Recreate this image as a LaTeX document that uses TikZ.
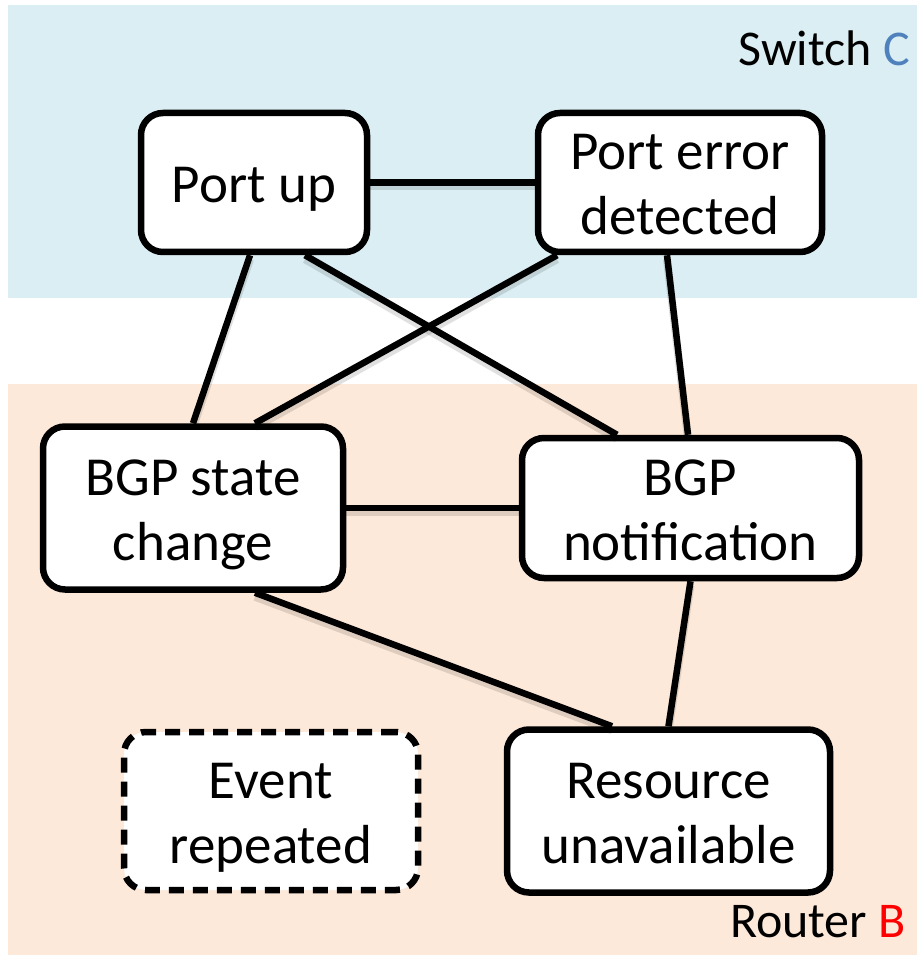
\documentclass[tikz,border=0pt]{standalone}
\usepackage{fontspec}
\setmainfont{Carlito}
\usetikzlibrary{calc}
\definecolor{switchbg}{HTML}{DAEEF3}
\definecolor{routerbg}{HTML}{FDE9D9}
\definecolor{cblue}{HTML}{4F81BD}
% centred stack of lines, lowered slightly inside its box
\newcommand{\evtext}[1]{\raisebox{-7pt}[\height][\depth]{\begin{tabular}{@{}c@{}}#1\end{tabular}}}
\begin{document}
\begin{tikzpicture}[x=1pt,y=-1pt,
  evt/.style={draw=black, line width=6.5pt, fill=white, rounded corners=22pt,
    align=center, inner sep=0pt, font=\fontsize{55}{65}\selectfont},
  link/.style={line width=6.5pt, black,
    preaction={draw=black, opacity=0.12, line width=8pt, transform canvas={yshift=-4pt}}},
  zone/.style={font=\fontsize{50}{58}\selectfont, anchor=east, inner sep=0pt}]
\useasboundingbox (0,0) rectangle (917,957);
% zones
\fill[switchbg] (8,5) rectangle (917,298);
\fill[routerbg] (8,384) rectangle (917,955);
\node[zone] (swl) at (910,48) {Switch \textcolor{cblue}{C}};
\node[zone] (rtl) at (906,922) {Router \textcolor{red}{B}};
% events
\node[evt, minimum width=226pt, minimum height=139pt] (pu) at (254,182.5) {\evtext{Port up}};
\node[evt, minimum width=284pt, minimum height=139pt] (pe) at (680,182.5) {\evtext{Port error\\detected}};
\node[evt, minimum width=300pt, minimum height=163pt] (bs) at (193,508) {\evtext{BGP state\\change}};
\node[evt, minimum width=337pt, minimum height=140pt] (bn) at (690.5,508) {\evtext{BGP\\notification}};
\node[evt, dash pattern=on 15pt off 9pt, minimum width=294pt, minimum height=158pt] (er) at (271,811) {\evtext{Event\\repeated}};
\node[evt, minimum width=323pt, minimum height=163pt] (ru) at (668.5,811) {\evtext{Resource\\unavailable}};
% links
\draw[link] (pu.east) -- (pe.west);
\draw[link] ([xshift=-4pt]pu.south) -- (bs.north);
\draw[link] ([xshift=51pt]pu.south) -- ([xshift=-73.5pt]bn.north);
\draw[link] ([xshift=-123pt]pe.south) -- ([xshift=62pt]bs.north);
\draw[link] ([xshift=-13pt]pe.south) -- ([xshift=-2.5pt]bn.north);
\draw[link] (bs.east) -- (bn.west);
\draw[link] ([xshift=62pt]bs.south) -- ([xshift=-56.5pt]ru.north);
\draw[link] (bn.south) -- (ru.north);
\end{tikzpicture}
\end{document}
